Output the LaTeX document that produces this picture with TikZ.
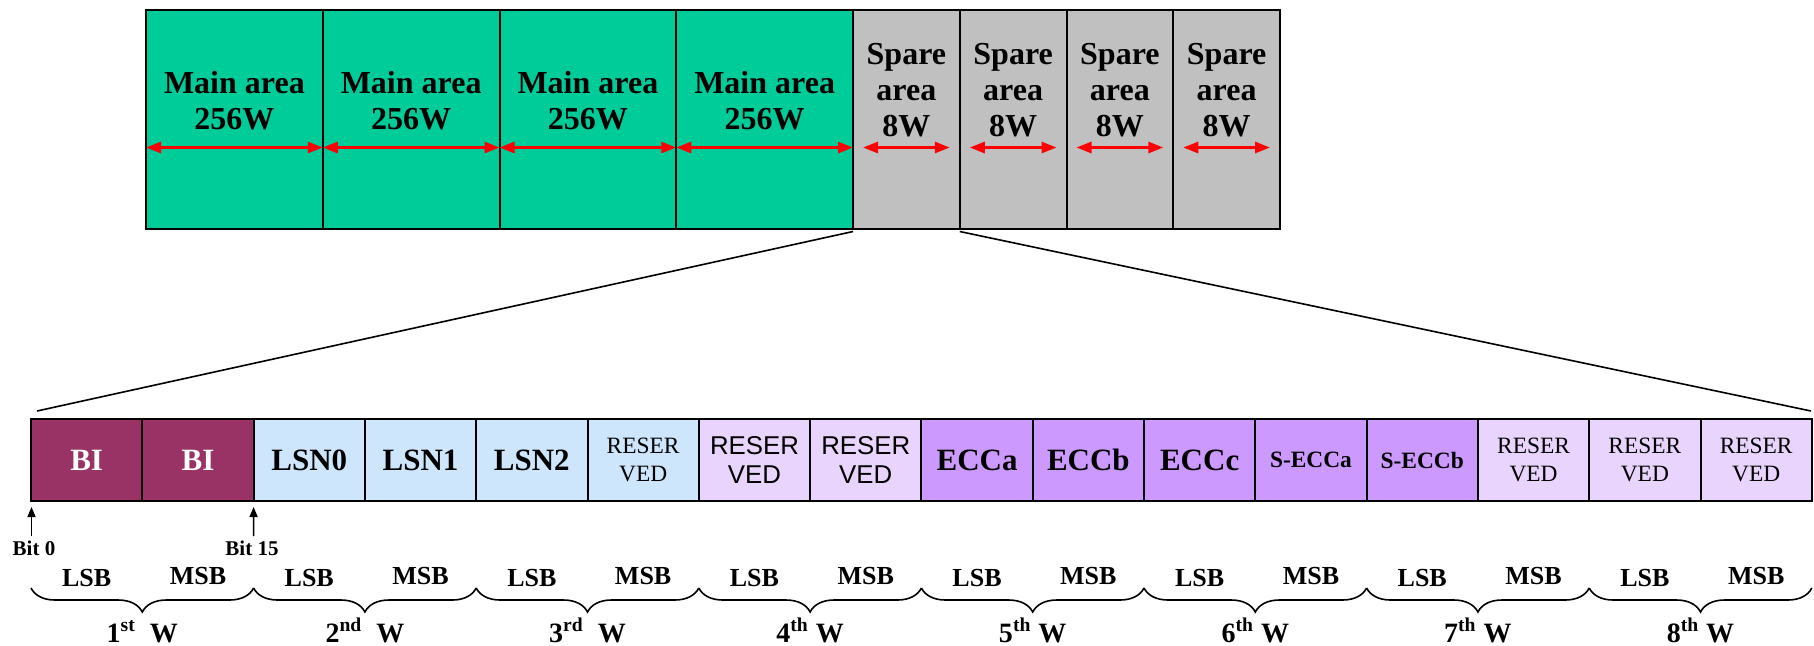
\documentclass[tikz,border=0pt]{standalone}
\usepackage{fontspec}
\setmainfont{Liberation Serif}
\newfontfamily\arialf{Liberation Sans}
\usetikzlibrary{arrows.meta,decorations.pathreplacing,calc}
\definecolor{maingreen}{HTML}{00CC99}
\definecolor{sparegray}{HTML}{C0C0C0}
\definecolor{bimaroon}{HTML}{993366}
\definecolor{lsnblue}{HTML}{CDE6FB}
\definecolor{reslav}{HTML}{E8D4FC}
\definecolor{eccpurple}{HTML}{CC99FF}
\definecolor{arrred}{HTML}{FF0000}
\begin{document}
\begin{tikzpicture}[x=0.5pt,y=-0.5pt,
  topcell/.style={draw=black, line width=1pt, inner sep=0pt, outer sep=0pt, minimum height=109.5pt, anchor=north west},
  maincell/.style={topcell, fill=maingreen, minimum width=88.375pt},
  sparecell/.style={topcell, fill=sparegray, minimum width=53.375pt},
  toptext/.style={align=center, inner sep=0pt, font=\bfseries\fontsize{16}{18}\selectfont},
  redarr/.style={draw=arrred, line width=1.4pt, {Triangle[length=7.5pt,width=5.5pt]}-{Triangle[length=7.5pt,width=5.5pt]}},
  cell/.style={draw=black, line width=1pt, inner sep=0pt, outer sep=0pt, minimum width=55.65pt, minimum height=41pt, anchor=north west, align=center},
  bigtxt/.style={font=\bfseries\fontsize{15.5}{17}\selectfont},
  smalltxt/.style={font=\bfseries\fontsize{11.7}{14}\selectfont},
  restimes/.style={font=\fontsize{11.7}{14}\selectfont},
  resarial/.style={font=\arialf\fontsize{12.9}{14.5}\selectfont},
  bititxt/.style={font=\bfseries\fontsize{10.5}{12}\selectfont, inner sep=0pt},
  bitarr/.style={draw=black, line width=0.8pt, -{Triangle[length=5pt,width=4pt]}},
  lmtxt/.style={font=\bfseries\fontsize{13}{15}\selectfont, inner sep=0pt, anchor=base},
  wtxt/.style={font=\bfseries\fontsize{14}{16}\selectfont, inner sep=0pt, anchor=base},
  bracestyle/.style={draw=black, line width=0.8pt, decorate, decoration={brace, mirror, amplitude=12pt}},
  zoomline/.style={draw=black, line width=0.8pt}
]
\path[use as bounding box] (0,0) rectangle (1814,645);

% ---- top row ----
\foreach \i in {0,1,2,3}{
  \node[maincell] (m\i) at ({146+176.75*\i},9.5) {};
  \node[toptext] (mt\i) at ($(m\i.center)+(0,-18)$) {Main area\\256W};
  \draw[redarr] ($(m\i.west)+(0,28.5)$) -- ($(m\i.east)+(0,28.5)$);
}
\foreach \i in {0,1,2,3}{
  \node[sparecell] (s\i) at ({853+106.75*\i},9.5) {};
  \node[toptext] (st\i) at ($(s\i.center)+(0,-28.5)$) {Spare\\area\\8W};
  \draw[redarr] ($(s\i.west)+(10,28.5)$) -- ($(s\i.east)+(-10,28.5)$);
}

% ---- bottom row ----
\node[cell, fill=bimaroon, bigtxt, text=white] (c0) at (31,419) {BI};
\node[cell, fill=bimaroon, bigtxt, text=white] (c1) at ({31+111.3*1},419) {BI};
\node[cell, fill=lsnblue, bigtxt] (c2) at ({31+111.3*2},419) {LSN0};
\node[cell, fill=lsnblue, bigtxt] (c3) at ({31+111.3*3},419) {LSN1};
\node[cell, fill=lsnblue, bigtxt] (c4) at ({31+111.3*4},419) {LSN2};
\node[cell, fill=lsnblue, restimes] (c5) at ({31+111.3*5},419) {RESER\\VED};
\node[cell, fill=reslav, resarial] (c6) at ({31+111.3*6},419) {RESER\\VED};
\node[cell, fill=reslav, resarial] (c7) at ({31+111.3*7},419) {RESER\\VED};
\node[cell, fill=eccpurple, bigtxt] (c8) at ({31+111.3*8},419) {ECCa};
\node[cell, fill=eccpurple, bigtxt] (c9) at ({31+111.3*9},419) {ECCb};
\node[cell, fill=eccpurple, bigtxt] (c10) at ({31+111.3*10},419) {ECCc};
\node[cell, fill=eccpurple, smalltxt] (c11) at ({31+111.3*11},419) {S-ECCa};
\node[cell, fill=eccpurple, smalltxt] (c12) at ({31+111.3*12},419) {S-ECCb};
\node[cell, fill=reslav, restimes] (c13) at ({31+111.3*13},419) {RESER\\VED};
\node[cell, fill=reslav, restimes] (c14) at ({31+111.3*14},419) {RESER\\VED};
\node[cell, fill=reslav, restimes] (c15) at ({31+111.3*15},419) {RESER\\VED};

% ---- zoom lines ----
\coordinate (zl) at (37,411);
\coordinate (zr) at (1811,411);
\draw[zoomline] ($(s0.south west)+(0,3)$) -- (zl);
\draw[zoomline] ($(s0.south east)+(0,3)$) -- (zr);

% ---- bit markers ----
\coordinate (b0t) at (31.5,536);
\coordinate (b15t) at (253.6,536);
\draw[bitarr] (b0t) -- ($(c0.south west)+(0.5,6)$);
\draw[bitarr] (b15t) -- ($(c1.south east)+(0,6)$);
\node[bititxt] (bit0) at (34,548) {Bit 0};
\node[bititxt] (bit15) at (252,548) {Bit 15};

% ---- LSB / MSB labels, braces, words ----
\foreach \k in {0,...,7}{
  \pgfmathtruncatemacro{\ca}{2*\k}
  \pgfmathtruncatemacro{\cb}{2*\k+1}
  \node[lmtxt] (lsb\k) at ($(c\ca.center)+(0,126)$) {LSB};
  \node[lmtxt] (msb\k) at ($(c\cb.center)+(0,124)$) {MSB};
  \coordinate (bl\k) at ($(c\ca.south west)+(0,87)$);
  \coordinate (br\k) at ($(c\cb.south east)+(0,87)$);
  \draw[bracestyle] (bl\k) -- (br\k);
}
\node[wtxt] (w1) at ($(c0.south east)+(0,141)$) {1\textsuperscript{st}\ \ W};
\node[wtxt] (w2) at ($(c2.south east)+(0,141)$) {2\textsuperscript{nd}\ \ W};
\node[wtxt] (w3) at ($(c4.south east)+(0,141)$) {3\textsuperscript{rd}\ \ W};
\node[wtxt] (w4) at ($(c6.south east)+(0,141)$) {4\textsuperscript{th} W};
\node[wtxt] (w5) at ($(c8.south east)+(0,141)$) {5\textsuperscript{th} W};
\node[wtxt] (w6) at ($(c10.south east)+(0,141)$) {6\textsuperscript{th} W};
\node[wtxt] (w7) at ($(c12.south east)+(0,141)$) {7\textsuperscript{th} W};
\node[wtxt] (w8) at ($(c14.south east)+(0,141)$) {8\textsuperscript{th} W};
\end{tikzpicture}
\end{document}
